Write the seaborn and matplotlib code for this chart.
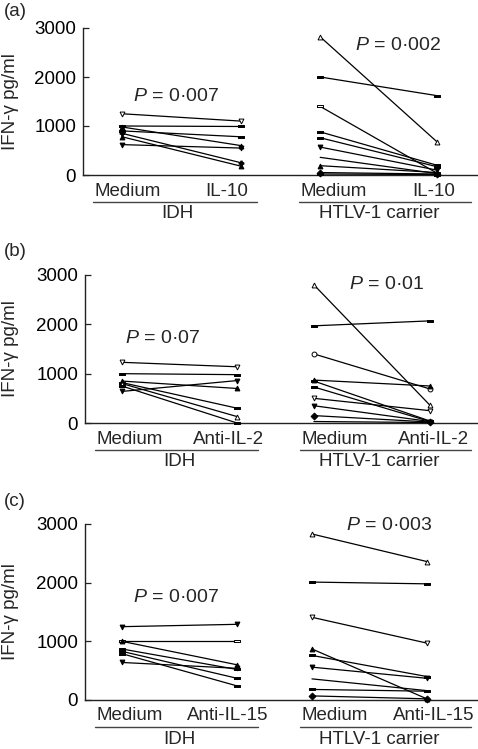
import matplotlib
matplotlib.use("Agg")
import matplotlib.pyplot as plt
import matplotlib.transforms as mtransforms
import seaborn as sns

# ---- data (IFN-gamma pg/ml) ----
conditions_a = ["Medium", "IL-10", "Medium", "IL-10"]
conditions_b = ["Medium", "Anti-IL-2", "Medium", "Anti-IL-2"]
conditions_c = ["Medium", "Anti-IL-15", "Medium", "Anti-IL-15"]
groups = ["IDH", "HTLV-1 carrier"]

a_idh_medium = [1250, 1000, 980, 900, 850, 780, 620]
a_idh_treated = [1100, 990, 600, 780, 250, 180, 550]
a_htlv_medium = [2820, 2000, 1400, 880, 760, 570, 360, 190, 50, 20]
a_htlv_treated = [680, 1620, 40, 200, 170, 100, 30, 50, 20, 10]

b_idh_medium = [1230, 1000, 640, 850, 820, 800, 750]
b_idh_treated = [1140, 980, 860, 700, 300, 130, 0]
b_htlv_medium = [2800, 1970, 1400, 870, 850, 730, 500, 350, 150, 30]
b_htlv_treated = [360, 2070, 690, 750, 40, 30, 250, 30, 20, 10]

c_idh_medium = [1250, 1000, 1000, 870, 830, 790, 640]
c_idh_treated = [1290, 1000, 600, 520, 370, 240, 540]
c_htlv_medium = [2830, 2010, 1410, 870, 760, 560, 360, 180, 70]
c_htlv_treated = [2360, 1980, 970, 20, 400, 370, 160, 150, 20]

p_values = [("0·007", "0·002"), ("0·07", "0·01"), ("0·007", "0·003")]

# ---- marker styles: (marker, filled); "b" = flat bar like the original squares ----
a_idh_marks = [("v", False), ("b", True), ("^", True), ("b", True), ("P", True), ("^", True), ("v", True)]
a_htlv_marks = [("^", False), ("b", True), ("b", False), ("b", True), ("b", True), ("v", True),
                ("", True), ("^", True), ("D", True), ("b", True)]
b_idh_marks = [("v", False), ("b", True), ("v", True), ("^", True), ("b", True), ("^", False), ("b", True)]
b_htlv_marks = [("^", False), ("b", True), ("o", False), ("^", True), ("b", True), ("b", True),
                ("v", False), ("v", True), ("D", True), ("", True)]
c_idh_marks = [("v", True), ("b", False), ("^", True), ("b", True), ("b", True), ("b", True), ("v", True)]
c_htlv_marks = [("^", False), ("b", True), ("v", False), ("^", True), ("b", True), ("v", True),
                ("", True), ("b", True), ("D", True)]

bar_marker = [(-1, -0.5), (1, -0.5), (1, 0.5), (-1, 0.5), (-1, -0.5)]

sns.set_style("ticks")
plt.rcParams["font.family"] = ["Liberation Sans", "DejaVu Sans"]
plt.rcParams["mathtext.fontset"] = "custom"
plt.rcParams["mathtext.rm"] = "Liberation Sans"
plt.rcParams["mathtext.it"] = "Liberation Sans:italic"

W, H = 478, 749
fig = plt.figure(figsize=(W / 100, H / 100), dpi=100)

# layout of each panel in pixels: axis left, axis bottom, axis top, point x positions
panels = [
    dict(left=83, bottom=175, top=28, xs=[0.099, 0.401, 0.602, 0.898],
         labels=conditions_a, data=[(a_idh_medium, a_idh_treated, a_idh_marks),
                                    (a_htlv_medium, a_htlv_treated, a_htlv_marks)],
         ptxt=[(0.236, 1612), (0.80, 2633)], tag="(a)", tag_y=11),
    dict(left=85, bottom=423, top=275, xs=[0.094, 0.388, 0.584, 0.880],
         labels=conditions_b, data=[(b_idh_medium, b_idh_treated, b_idh_marks),
                                    (b_htlv_medium, b_htlv_treated, b_htlv_marks)],
         ptxt=[(0.199, 1704), (0.77, 2800)], tag="(b)", tag_y=252),
    dict(left=85, bottom=700, top=524, xs=[0.094, 0.388, 0.579, 0.872],
         labels=conditions_c, data=[(c_idh_medium, c_idh_treated, c_idh_marks),
                                    (c_htlv_medium, c_htlv_treated, c_htlv_marks)],
         ptxt=[(0.232, 1755), (0.776, 2981)], tag="(c)", tag_y=502),
]

label_fx = [0.113, 0.365, 0.637, 0.889]
line_spans = [(0.025, 0.442), (0.548, 0.985)]
group_fx = [0.240, 0.751]
axis_col = "#222222"
fs = 13.5

for i, p in enumerate(panels):
    right = 477
    ax = fig.add_axes([p["left"] / W, (H - p["bottom"]) / H,
                       (right - p["left"]) / W, (p["bottom"] - p["top"]) / H])
    for g, (before, after, marks) in enumerate(p["data"]):
        x0, x1 = p["xs"][2 * g], p["xs"][2 * g + 1]
        for v0, v1, (m, filled) in zip(before, after, marks):
            if m == "b":
                mk, ms = bar_marker, 4.3
            elif m == "":
                mk, ms = None, 0
            else:
                mk, ms = m, 3.5
            sns.lineplot(x=[x0, x1], y=[v0, v1], ax=ax, color="black", lw=0.9,
                         marker=mk, markersize=ms, mec="black", mew=0.7,
                         mfc="black" if filled else "white", clip_on=False, zorder=3)

    ax.set_xlim(0, 1)
    ax.set_ylim(0, 3000)
    ax.set_yticks([0, 1000, 2000, 3000])
    ax.set_xticks([])
    ax.set_xlabel("")
    ax.set_ylabel("")
    ax.tick_params(axis="y", direction="in", length=4, width=0.9, pad=5,
                   labelsize=fs, colors=axis_col)
    ax.tick_params(axis="y", labelcolor="black")
    sns.despine(ax=ax)
    for s in ["left", "bottom"]:
        ax.spines[s].set_linewidth(1.0)
        ax.spines[s].set_color(axis_col)

    # condition labels, group lines and group names under the axis
    for fx, lab in zip(label_fx, p["labels"]):
        ax.annotate(lab, xy=(fx, 0), xycoords="axes fraction", xytext=(0, -16),
                    textcoords="offset pixels", ha="center", va="center", fontsize=fs)
    under = mtransforms.offset_copy(ax.transAxes, fig=fig, y=-27, units="dots")
    for (s0, s1) in line_spans:
        ax.plot([s0, s1], [0, 0], color="#444444", lw=1.0, transform=under, clip_on=False)
    for fx, gname in zip(group_fx, groups):
        ax.annotate(gname, xy=(fx, 0), xycoords="axes fraction", xytext=(0, -39),
                    textcoords="offset pixels", ha="center", va="center", fontsize=fs)

    # P values
    for (px, py), pv in zip(p["ptxt"], p_values[i]):
        ax.text(px, py, "$P$ = " + pv, ha="center", va="center", fontsize=14)

    # y label and panel tag
    yc = (p["bottom"] + p["top"]) / 2
    fig.text(11 / W, 1 - yc / H, "IFN-γ pg/ml", rotation=90, ha="center", va="center", fontsize=fs)
    fig.text(4 / W, 1 - p["tag_y"] / H, p["tag"], ha="left", va="center", fontsize=fs)

fig.savefig("out.png", dpi=100)
